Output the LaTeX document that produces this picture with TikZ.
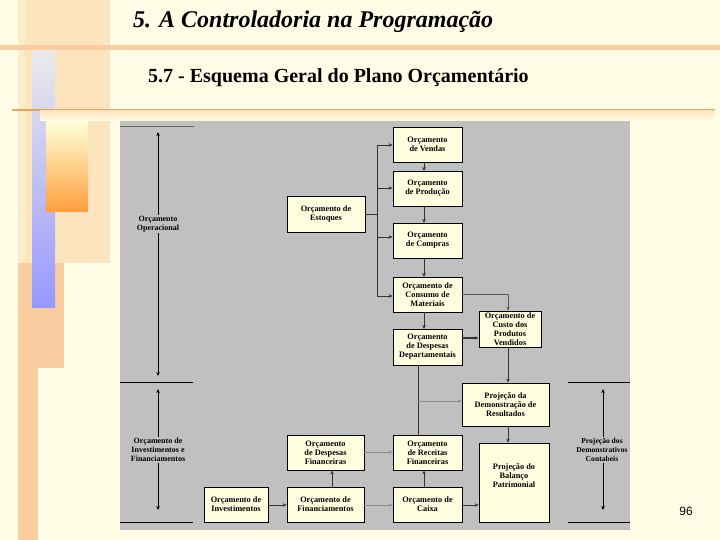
\documentclass[tikz,border=0pt]{standalone}
\usepackage{fontspec}
\setmainfont{Liberation Serif}
\newfontfamily\arialfont{Liberation Sans}
\usetikzlibrary{arrows.meta}
\definecolor{bgcream}{RGB}{255,253,230}
\definecolor{peach}{RGB}{250,205,160}
\definecolor{peachlight}{RGB}{252,228,190}
\definecolor{lineorange}{RGB}{232,165,85}
\definecolor{panelgray}{RGB}{192,192,192}
\definecolor{boxfill}{RGB}{255,255,224}
\definecolor{lav}{RGB}{152,152,255}
\definecolor{orangedeep}{RGB}{255,158,60}
\tikzset{
  box/.style={draw=black, line width=0.8pt, fill=boxfill, inner sep=0pt, align=center,
    font=\fontsize{8.3}{9}\selectfont\bfseries},
  conn/.style={draw=black!80, line width=0.8pt},
  lconn/.style={draw=black!45, line width=0.8pt},
  arr/.style={-{Stealth[length=4pt,width=3.5pt]}},
  ann/.style={font=\fontsize{8}{9}\selectfont\bfseries, align=center, fill=panelgray, inner xsep=0pt, inner ysep=1pt},
  annarrow/.style={draw=black, line width=0.7pt, {Stealth[length=4pt,width=3.5pt]}-{Stealth[length=4pt,width=3.5pt]}},
  divider/.style={draw=black, line width=0.8pt}
}
\begin{document}
\begin{tikzpicture}[x=1pt,y=-1pt]
\useasboundingbox (0,0) rectangle (720,540);
% background
\fill[bgcream] (0,0) rectangle (720,540);
% left decorations
\fill[peachlight] (25,0) rectangle (110,263);
\fill[peach] (18,263) rectangle (38,540);
\fill[peachlight!70!bgcream] (18,0) rectangle (25,263);
\fill[peach] (34,263) rectangle (64,368);
\shade[top color=black!8, bottom color=lav] (32,50) rectangle (55,307);
\shade[top color=yellow!15, bottom color=orangedeep] (46,122) rectangle (88,212);
% top bands
\fill[peach] (0,45) rectangle (720,50);
\fill[lineorange] (12,109) rectangle (715,111);
\shade[top color=peachlight, bottom color=bgcream] (40,111) rectangle (715,121);
% title
\node[anchor=base west, inner sep=0pt, font=\fontsize{24}{24}\selectfont\bfseries\itshape] (title) at (133,28) {5. A Controladoria na Programação};
\node[anchor=base west, inner sep=0pt, font=\fontsize{20}{20}\selectfont\bfseries] (subtitle) at (148,83) {5.7 - Esquema Geral do Plano Orçamentário};
\node[anchor=base, inner sep=0pt, font=\arialfont\fontsize{12}{12}\selectfont] (page) at (686,515) {96};
% panel
\fill[panelgray] (120,121) rectangle (630,530);
% boxes
\node[box, minimum width=69pt, minimum height=35pt] (vendas) at (427.5,144.5) {Orçamento\\de Vendas};
\node[box, minimum width=69pt, minimum height=35pt] (producao) at (427.5,188.5) {Orçamento\\de Produção};
\node[box, minimum width=78pt, minimum height=36pt] (estoques) at (326,214) {Orçamento de\\Estoques};
\node[box, minimum width=69pt, minimum height=35pt] (compras) at (427.5,240.5) {Orçamento\\de Compras};
\node[box, minimum width=69pt, minimum height=35pt] (consumo) at (427.5,294.5) {Orçamento de\\Consumo de\\Materiais};
\node[box, minimum width=62pt, minimum height=36pt] (custo) at (510,329) {Orçamento de\\Custo dos\\Produtos\\Vendidos};
\node[box, minimum width=69pt, minimum height=36pt] (despdep) at (427.5,347) {Orçamento\\de Despesas\\Departamentais};
\node[box, minimum width=87pt, minimum height=43pt] (dr) at (505.5,404.5) {Projeção da\\Demonstração de\\Resultados};
\node[box, minimum width=77pt, minimum height=35pt] (despfin) at (325.5,452.5) {Orçamento\\de Despesas\\Financeiras};
\node[box, minimum width=69pt, minimum height=35pt] (receitas) at (427.5,452.5) {Orçamento\\de Receitas\\Financeiras};
\node[box, minimum width=70pt, minimum height=79pt] (balanco) at (514,482.5) {};
\node[font=\fontsize{8.3}{9}\selectfont\bfseries, align=center, inner sep=0pt] (balancoT) at (514,476) {Projeção do\\Balanço\\Patrimonial};
\node[box, minimum width=64pt, minimum height=35pt] (invest) at (236,504.5) {Orçamento de\\Investimentos};
\node[box, minimum width=77pt, minimum height=35pt] (financ) at (325.5,504.5) {Orçamento de\\Financiamentos};
\node[box, minimum width=69pt, minimum height=35pt] (caixa) at (427.5,504.5) {Orçamento de\\Caixa};
% bus from estoques
\coordinate (busTop) at (377,145);
\coordinate (busBot) at (377,296);
\coordinate (busMid) at (377,214);
\draw[conn] (estoques.east |- busMid) -- (busMid);
\draw[conn] (busTop) -- (busBot);
\draw[conn, arr] (busTop) -- (vendas.west |- busTop);
\draw[conn, arr] (377,188) -- (producao.west |- 377,188);
\draw[conn, arr] (377,237) -- (compras.west |- 377,237);
\draw[conn, arr] (busBot) -- (consumo.west |- busBot);
% vertical chain
\draw[conn, arr] (424,162) -- (424,171);
\draw[conn, arr] (424,206) -- (424,223);
\draw[conn, arr] (424,258) -- (424,277);
\draw[conn, arr] (424,312) -- (424,329);
% consumo to custo
\draw[conn, draw=black!65, arr] (consumo.east |- 0,294) -- (508,294) -- (custo.north -| 508,0);
% despdep to custo
\draw[conn, line width=1.6pt, arr] (despdep.east |- 0,338) -- (custo.west |- 0,338);
% custo to dr
\draw[conn, arr] (custo.south -| 508,0) -- (dr.north -| 508,0);
% despdep down to receitas, branch to dr
\draw[conn] (despdep.south -| 418,0) -- (receitas.north -| 418,0);
\draw[lconn, arr] (418,401) -- (dr.west |- 0,401);
% dr to balanco
\draw[conn, arr] (dr.south -| 508,0) -- (balanco.north -| 508,0);
% financial section
\draw[lconn, arr] (despfin.east |- 0,452) -- (receitas.west |- 0,452);
\draw[conn, arr] (financ.north -| 332,0) -- (despfin.south -| 332,0);
\draw[conn, arr] (caixa.north -| 424,0) -- (receitas.south -| 424,0);
\draw[conn, arr] (invest.east |- 0,505) -- (financ.west |- 0,505);
\draw[lconn, arr] (financ.east |- 0,505) -- (caixa.west |- 0,505);
\draw[conn, arr] (caixa.east |- 0,505) -- (balanco.west |- 0,505);
% left annotations
\draw[divider, black!60] (120,126) -- (194,126);
\draw[divider] (120,382) -- (193,382);
\draw[divider] (120,522) -- (193,522);
\coordinate (opTop) at (158,132);
\coordinate (opBot) at (158,376);
\draw[annarrow] (opTop) -- (opBot);
\node[ann] (opLabel) at (158,224) {Orçamento\\Operacional};
\coordinate (ifTop) at (158,389);
\coordinate (ifBot) at (158,510);
\draw[annarrow] (ifTop) -- (ifBot);
\node[ann] (ifLabel) at (158,450) {Orçamento de\\Investimentos e\\Financiamentos};
% right annotation
\draw[divider] (568,382) -- (630,382);
\draw[divider] (568,522) -- (630,522);
\coordinate (dcTop) at (603,389);
\coordinate (dcBot) at (603,510);
\draw[annarrow] (dcTop) -- (dcBot);
\node[ann, font=\fontsize{7.6}{9}\selectfont\bfseries] (dcLabel) at (602,450) {Projeção dos\\Demonstrativos\\Contabeis};
\end{tikzpicture}
\end{document}
